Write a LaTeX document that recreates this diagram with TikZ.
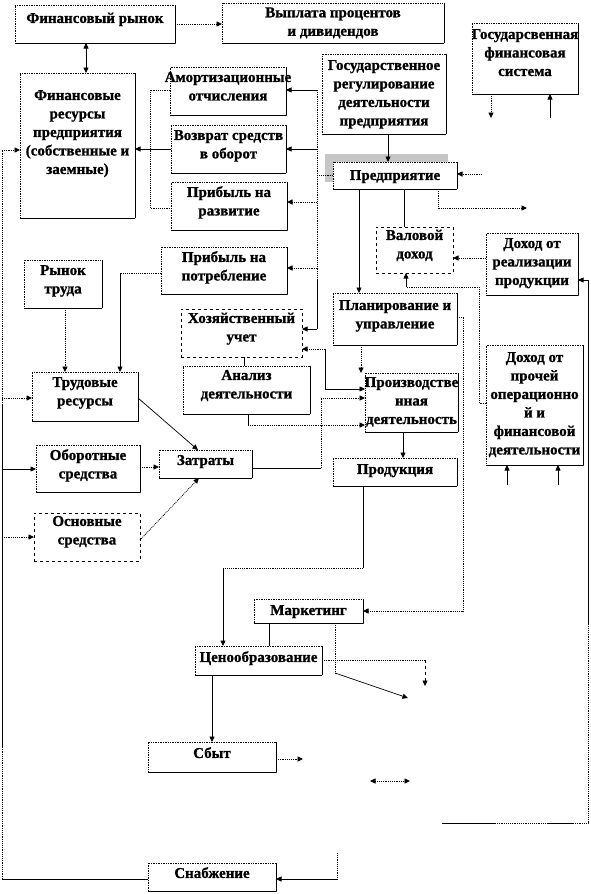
\documentclass[tikz,border=0pt]{standalone}
\usepackage{fontspec}
\setmainfont{Liberation Serif}[BoldFeatures={FakeBold=1}]
\usetikzlibrary{arrows.meta}
\newcommand{\tb}[4]{\vbox to #2pt{\vskip #3pt\hbox to #1pt{\hss\begin{tabular}{@{}c@{}}#4\end{tabular}\hss}\vss}}
\tikzset{
  boxfont/.style={font=\fontsize{15}{18.5}\selectfont\bfseries},
  bx/.style={draw, densely dotted, line width=0.7pt, anchor=north west, inner sep=0pt, outer sep=0pt, fill=white, boxfont,
    append after command={(\tikzlastnode.north east) edge[solid,line width=0.9pt,-] (\tikzlastnode.south east)
      (\tikzlastnode.south east) edge[solid,line width=0.9pt,-] (\tikzlastnode.south west)}},
  dbx/.style={draw, dashed, line width=0.7pt, anchor=north west, inner sep=0pt, outer sep=0pt, fill=white, boxfont},
  ln/.style={line width=0.7pt},
  dt/.style={densely dotted, line width=0.85pt},
  arr/.style={-{Triangle[length=5.5pt,width=5pt]}},
  rarr/.style={{Triangle[length=5.5pt,width=5pt]}-},
  darr/.style={{Triangle[length=5.5pt,width=5pt]}-{Triangle[length=5.5pt,width=5pt]}},
}
\begin{document}
\begin{tikzpicture}[x=1pt,y=-1pt]
\fill[white] (0,0) rectangle (590,894);
\useasboundingbox (0,0) rectangle (590,894);
% shadow behind Предприятие
\fill[gray!45] (325,154) rectangle (448,182);
% boxes
\node[bx] (fr) at (15,5) {\tb{160}{38}{5}{Финансовый рынок}};
\node[bx] (vyp) at (222,3) {\tb{222}{40}{1.3}{Выплата процентов\\и дивидендов}};
\node[bx] (gfin) at (472,23) {\tb{106}{71}{3}{Государсвенная\\финансовая\\система}};
\node[bx] (greg) at (322,54) {\tb{124}{80}{3}{Государственное\\регулирование\\деятельности\\предприятия}};
\node[bx] (fres) at (20,73) {\tb{115}{145}{14}{Финансовые\\ресурсы\\предприятия\\(собственные и\\заемные)}};
\node[bx] (amort) at (170,67) {\tb{116}{48}{2}{Амортизационные\\отчисления}};
\node[bx] (vozv) at (171,125) {\tb{115}{48}{2}{Возврат средств\\в оборот}};
\node[bx] (prazv) at (171,182) {\tb{116}{48}{2}{Прибыль на\\развитие}};
\node[bx] (ppot) at (161,247) {\tb{126}{47}{2}{Прибыль на\\потребление}};
\node[dbx] (hoz) at (181,309) {\tb{121}{48}{1}{Хозяйственный\\учет}};
\node[bx] (anal) at (183,366) {\tb{127}{48}{1}{Анализ\\деятельности}};
\node[bx] (rtr) at (24,260) {\tb{78}{48}{2}{Рынок\\труда}};
\node[bx] (trud) at (32,372) {\tb{106}{49}{2}{Трудовые\\ресурсы}};
\node[bx] (obor) at (36,445) {\tb{104}{47}{2}{Оборотные\\средства}};
\node[bx] (zatr) at (159,450) {\tb{93}{28}{2}{Затраты}};
\node[dbx] (osn) at (34,513) {\tb{106}{48}{0}{Основные\\средства}};
\node[bx] (pred) at (333,162) {\tb{124}{27}{5}{Предприятие}};
\node[dbx] (val) at (376,227) {\tb{77}{46}{0}{Валовой\\доход}};
\node[bx] (dreal) at (486,233) {\tb{92}{62}{2}{Доход от\\реализации\\продукции}};
\node[bx] (plan) at (333,293) {\tb{124}{52}{4}{Планирование и\\управление}};
\node[bx] (proizv) at (365,373) {\tb{93}{59}{1}{Производстве\\нная\\деятельность}};
\node[bx] (dproch) at (486,345) {\tb{97}{120}{4}{Доход от\\прочей\\операционно\\й и\\финансовой\\деятельности}};
\node[bx] (prod) at (333,458) {\tb{124}{28}{3}{Продукция}};
\node[bx] (mark) at (254,599) {\tb{109}{24}{3}{Маркетинг}};
\node[bx] (cen) at (195,646) {\tb{127}{29}{3}{Ценообразование}};
\node[bx] (sbyt) at (148,742) {\tb{128}{30}{3}{Сбыт}};
\node[bx] (snab) at (148,863) {\tb{128}{28}{2}{Снабжение}};
% free ends
\coordinate (predout) at (527,208);
\coordinate (predin) at (482,174);
\coordinate (gfinout) at (491,118);
\coordinate (gfinin) at (550,118);
\coordinate (dpA) at (507,485);
\coordinate (dpB) at (558,485);
\coordinate (markout) at (408,698);
\coordinate (cenout) at (425,686);
\coordinate (sbytout) at (303,759);
\coordinate (dblA) at (370,781);
\coordinate (dblB) at (410,781);
\coordinate (snabin) at (337,853);
\coordinate (rbus) at (442,823);
% connectors
\draw[ln,darr] (fr.south -| 86,0) -- (fres.north -| 86,0);
\draw[dt,arr] (fr.east |- 0,24) -- (vyp.west |- 0,24);
\draw[ln,arr] (greg.south -| 388,0) -- (pred.north -| 388,0);
% bus left of Предприятие
\draw[dt] (pred.west |- 0,175) -- (317,175);
\draw[dt] (317,90) -- (317,280);
\draw[ln] (317,280) -- (317,329);
\draw[ln,arr] (317,90) -- (amort.east |- 0,90);
\draw[ln,arr] (317,149) -- (vozv.east |- 0,149);
\draw[dt,arr] (317,202) -- (prazv.east |- 0,202);
\draw[dt,arr] (317,268) -- (ppot.east |- 0,268);
\draw[ln,arr] (317,329) -- (hoz.east |- 0,329);
% to financial resources
\draw[dt] (amort.west |- 0,90) -- (150,90) -- (150,208) -- (prazv.west |- 0,208);
\draw[ln,arr] (vozv.west |- 0,149) -- (fres.east |- 0,149);
% labour
\draw[dt] (ppot.west |- 0,273) -- (120,273);
\draw[ln,arr] (120,273) -- (trud.north -| 120,0);
\draw[dt,arr] (rtr.south -| 65,0) -- (trud.north -| 65,0);
\draw[ln,arr] (trud.east |- 0,398) -- (zatr.north -| 198,0);
\draw[dt,arr] (obor.east |- 0,467) -- (zatr.west |- 0,467);
\draw[dt,arr] (osn.east |- 0,540) -- (zatr.south -| 199,0);
% left long bus
\draw[ln] (snab.west |- 0,879) -- (2,879);
\draw[dt] (2,879) -- (2,748);
\draw[ln] (2,748) -- (2,405);
\draw[dt] (2,405) -- (2,150);
\draw[dt,arr] (2,150) -- (fres.west |- 0,150);
\draw[dt,arr] (2,398) -- (trud.west |- 0,398);
\draw[ln,arr] (2,469) -- (obor.west |- 0,469);
\draw[dt,arr] (2,537) -- (osn.west |- 0,537);
% into Снабжение
\draw[dt] (snabin) -- (337,879);
\draw[ln,arr] (337,879) -- (snab.east |- 0,879);
% right long bus
\draw[ln] (rbus) -- (495,823);
\draw[dt] (495,823) -- (547,823);
\draw[ln] (547,823) -- (573,823);
\draw[dt] (573,823) -- (588,823) -- (588,623);
\draw[ln] (588,623) -- (588,280);
\draw[ln,arr] (588,280) -- (dreal.east |- 0,280);
% around Предприятие
\draw[dt,arr] (predin) -- (pred.east |- 0,174);
\draw[dt,arr] (pred.south -| 438,0) |- (predout);
\draw[ln,arr] (pred.south -| 359,0) -- (plan.north -| 359,0);
\draw[ln] (pred.south -| 404,0) -- (val.north -| 404,0);
\draw[dt,arr] (dreal.west |- 0,258) -- (val.east |- 0,258);
\draw[dt] (dproch.west |- 0,403) -- (479,403) -- (479,287) -- (406,287);
\draw[ln,arr] (406,287) -- (val.south -| 406,0);
\draw[ln,arr] (dpA) -- (dproch.south -| dpA);
\draw[ln,arr] (dpB) -- (dproch.south -| dpB);
\draw[dt,arr] (gfin.south -| gfinout) -- (gfinout);
\draw[ln,arr] (gfinin) -- (gfin.south -| gfinin);
% production chain
\draw[dt,arr] (plan.south -| 361,0) -- (proizv.north -| 361,0);
\draw[dt,arr] (plan.east |- 0,317) -- (463,317) -- (463,611) -- (mark.east |- 0,611);
\draw[ln,arr] (proizv.south -| 403,0) -- (prod.north -| 403,0);
\draw[dt,rarr] (hoz.east |- 0,349) -- (325,349);
\draw[ln,arr] (325,349) -- (325,389) -- (proizv.west |- 0,389);
\draw[ln] (zatr.east |- 0,468) -- (321,468);
\draw[dt,arr] (321,468) -- (321,398) -- (proizv.west |- 0,398);
\draw[ln] (anal.south -| 248,0) -- (248,425);
\draw[dt,arr] (248,425) -- (proizv.west |- 0,425);
\draw[ln] (hoz.south -| 244,0) -- (anal.north -| 244,0);
% marketing / pricing / sales
\draw[ln] (prod.south -| 363,0) -- (363,568);
\draw[dt] (363,568) -- (223,568);
\draw[ln,arr] (223,568) -- (cen.north -| 223,0);
\draw[ln] (mark.south -| 269,0) -- (cen.north -| 269,0);
\draw[dt] (mark.south -| 335,0) -- (335,673);
\draw[ln,arr] (335,673) -- (markout);
\draw[dt] (cen.east |- 0,660) -- (425,660);
\draw[dashed,line width=0.7pt,arr] (425,660) -- (cenout);
\draw[ln,arr] (cen.south -| 212,0) -- (sbyt.north -| 212,0);
\draw[dt,arr] (sbyt.east |- 0,759) -- (sbytout);
\draw[dt,darr] (dblA) -- (dblB);
\end{tikzpicture}
\end{document}
